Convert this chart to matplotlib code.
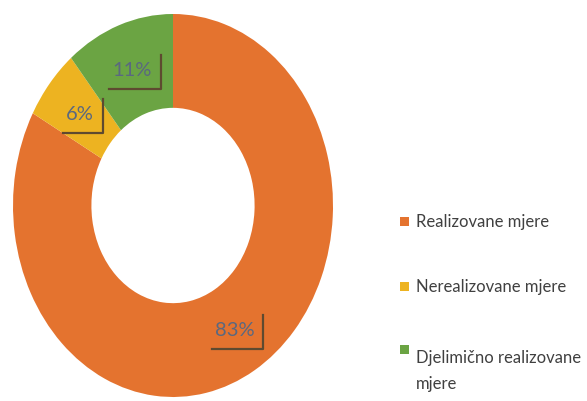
import matplotlib.pyplot as plt
from matplotlib.patches import Rectangle
from matplotlib.lines import Line2D

# podaci
categories = ["Realizovane mjere", "Nerealizovane mjere", "Djelimično realizovane\nmjere"]
values = [83, 6, 11]
colors = ["#E4732F", "#EDB321", "#6BA443"]

plt.rcParams["font.family"] = ["Lato", "DejaVu Sans"]

fig = plt.figure(figsize=(5.87, 4.02), dpi=100)
W, H = 587, 402
# krug je u originalu razvučen u elipsu
ax = fig.add_axes([13 / W, 4 / H, 320 / W, 383 / H])
wedges, texts, autotexts = ax.pie(
    values, colors=colors, startangle=90, counterclock=False,
    wedgeprops=dict(width=0.49, linewidth=0),
    autopct="%d%%", pctdistance=0.755,
    textprops=dict(color="#5A6880", fontsize=14.5),
)
ax.set_aspect("auto")
ax.set_xlim(-1, 1)
ax.set_ylim(-1, 1)
ax.axis("off")

# tamna "sjenka" desno i dolje oko procenata
fig.canvas.draw()
r = fig.canvas.get_renderer()
for t in autotexts:
    bb = t.get_window_extent(r)
    x0, x1 = bb.x0 - 3, bb.x1 + 9
    y0, y1 = bb.y0 - 11, bb.y1 + 6
    fig.add_artist(Line2D([x1, x1, x0], [y1, y0, y0], transform=None,
                          color="#5E4A30", lw=1.6))

# legenda
leg_y = [222, 287, 350]
for lbl, c, y in zip(categories, colors, leg_y):
    fig.add_artist(Rectangle((400 / W, 1 - (y + 4.5) / H), 9 / W, 9 / H,
                             transform=fig.transFigure, color=c, lw=0))
    fig.text(416 / W, 1 - y / H, lbl, fontsize=12, color="#404040",
             va="top" if "\n" in lbl else "center", linespacing=1.75)

fig.savefig("out.png", dpi=100)
